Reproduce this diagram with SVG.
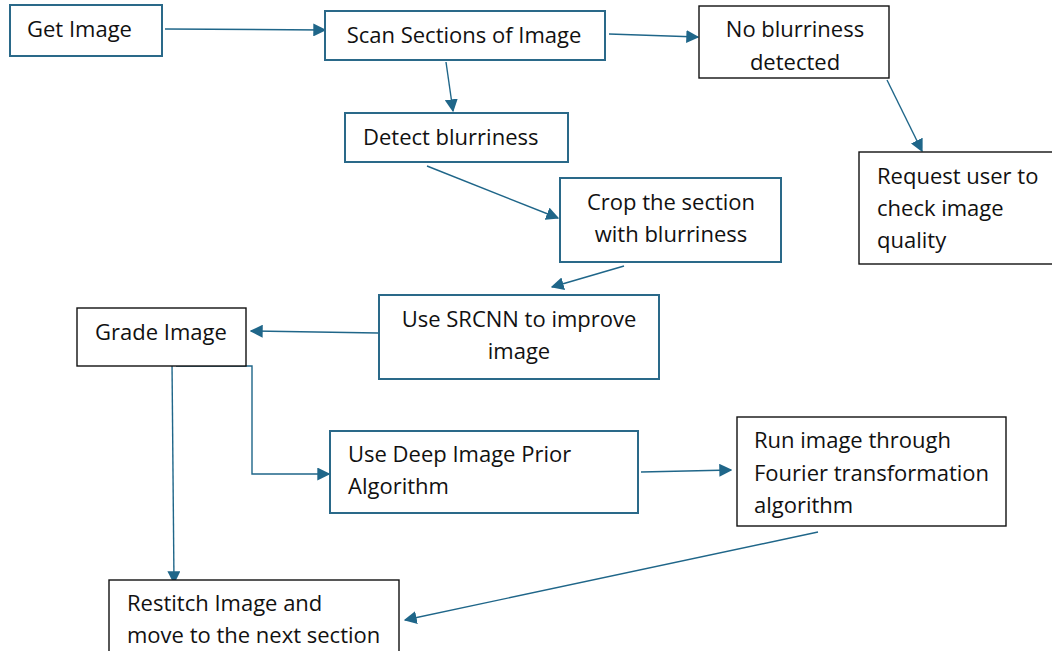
<svg xmlns="http://www.w3.org/2000/svg" width="1052" height="651" viewBox="0 0 1052 651">
<defs>
<marker id="arr" viewBox="0 0 10 10" refX="9" refY="5" markerWidth="13" markerHeight="13" markerUnits="userSpaceOnUse" orient="auto">
<path d="M0,0 L10,5 L0,10 z" fill="#1f6689"/>
</marker>
<style>
.b{fill:#fff;stroke:#2a6989;stroke-width:2}
.k{fill:#fff;stroke:#111;stroke-width:1.4}
text{font-family:"Open Sans","Liberation Sans",sans-serif;font-size:22px;fill:#111}
.c{text-anchor:middle}
.ln{fill:none;stroke:#1f6689;stroke-width:1.4;marker-end:url(#arr)}
</style>
</defs>
<rect width="1052" height="651" fill="#fff"/>
<g id="connectors">
<line class="ln" x1="165" y1="29" x2="325" y2="30"/>
<line class="ln" x1="609" y1="34" x2="698" y2="37"/>
<line class="ln" x1="446" y1="62" x2="453" y2="111"/>
<line class="ln" x1="887" y1="80" x2="922" y2="151"/>
<line class="ln" x1="427" y1="166" x2="558" y2="218"/>
<line class="ln" x1="624" y1="266" x2="552" y2="287"/>
<line class="ln" x1="378" y1="333" x2="251" y2="331"/>
<line class="ln" x1="172" y1="362" x2="174" y2="583"/>
<polyline class="ln" points="176,366 252,366 252,474 329,474"/>
<line class="ln" x1="641" y1="472" x2="731" y2="470"/>
<line class="ln" x1="818" y1="532" x2="405" y2="620"/>
</g>
<g id="get-image"><rect class="b" x="10" y="5" width="152" height="51"/><text x="27" y="37">Get Image</text></g>
<g id="scan-sections"><rect class="b" x="325" y="11" width="280" height="49"/><text class="c" x="464" y="43">Scan Sections of Image</text></g>
<g id="no-blurriness"><rect class="k" x="699" y="6" width="190" height="72"/><text class="c" x="795" y="37">No blurriness</text><text class="c" x="795" y="70">detected</text></g>
<g id="detect-blurriness"><rect class="b" x="345" y="113" width="223" height="49"/><text x="363" y="145">Detect blurriness</text></g>
<g id="crop-section"><rect class="b" x="560" y="178" width="221" height="84"/><text class="c" x="671" y="210">Crop the section</text><text class="c" x="671" y="242">with blurriness</text></g>
<g id="request-user"><rect class="k" x="859" y="152" width="194" height="112"/><text x="877" y="184">Request user to</text><text x="877" y="216">check image</text><text x="877" y="248">quality</text></g>
<g id="srcnn"><rect class="b" x="379" y="295" width="280" height="84"/><text class="c" x="519" y="327">Use SRCNN to improve</text><text class="c" x="519" y="359">image</text></g>
<g id="grade-image"><rect class="k" x="77" y="308" width="169" height="58"/><text x="95" y="340">Grade Image</text></g>
<g id="deep-image-prior"><rect class="b" x="330" y="431" width="308" height="82"/><text x="348" y="462">Use Deep Image Prior</text><text x="348" y="494">Algorithm</text></g>
<g id="fourier"><rect class="k" x="737" y="417" width="269" height="109"/><text x="754" y="448">Run image through</text><text x="754" y="481">Fourier transformation</text><text x="754" y="513">algorithm</text></g>
<g id="restitch"><rect class="k" x="109" y="580" width="290" height="80"/><text x="127" y="611">Restitch Image and</text><text x="127" y="643">move to the next section</text></g>
</svg>
